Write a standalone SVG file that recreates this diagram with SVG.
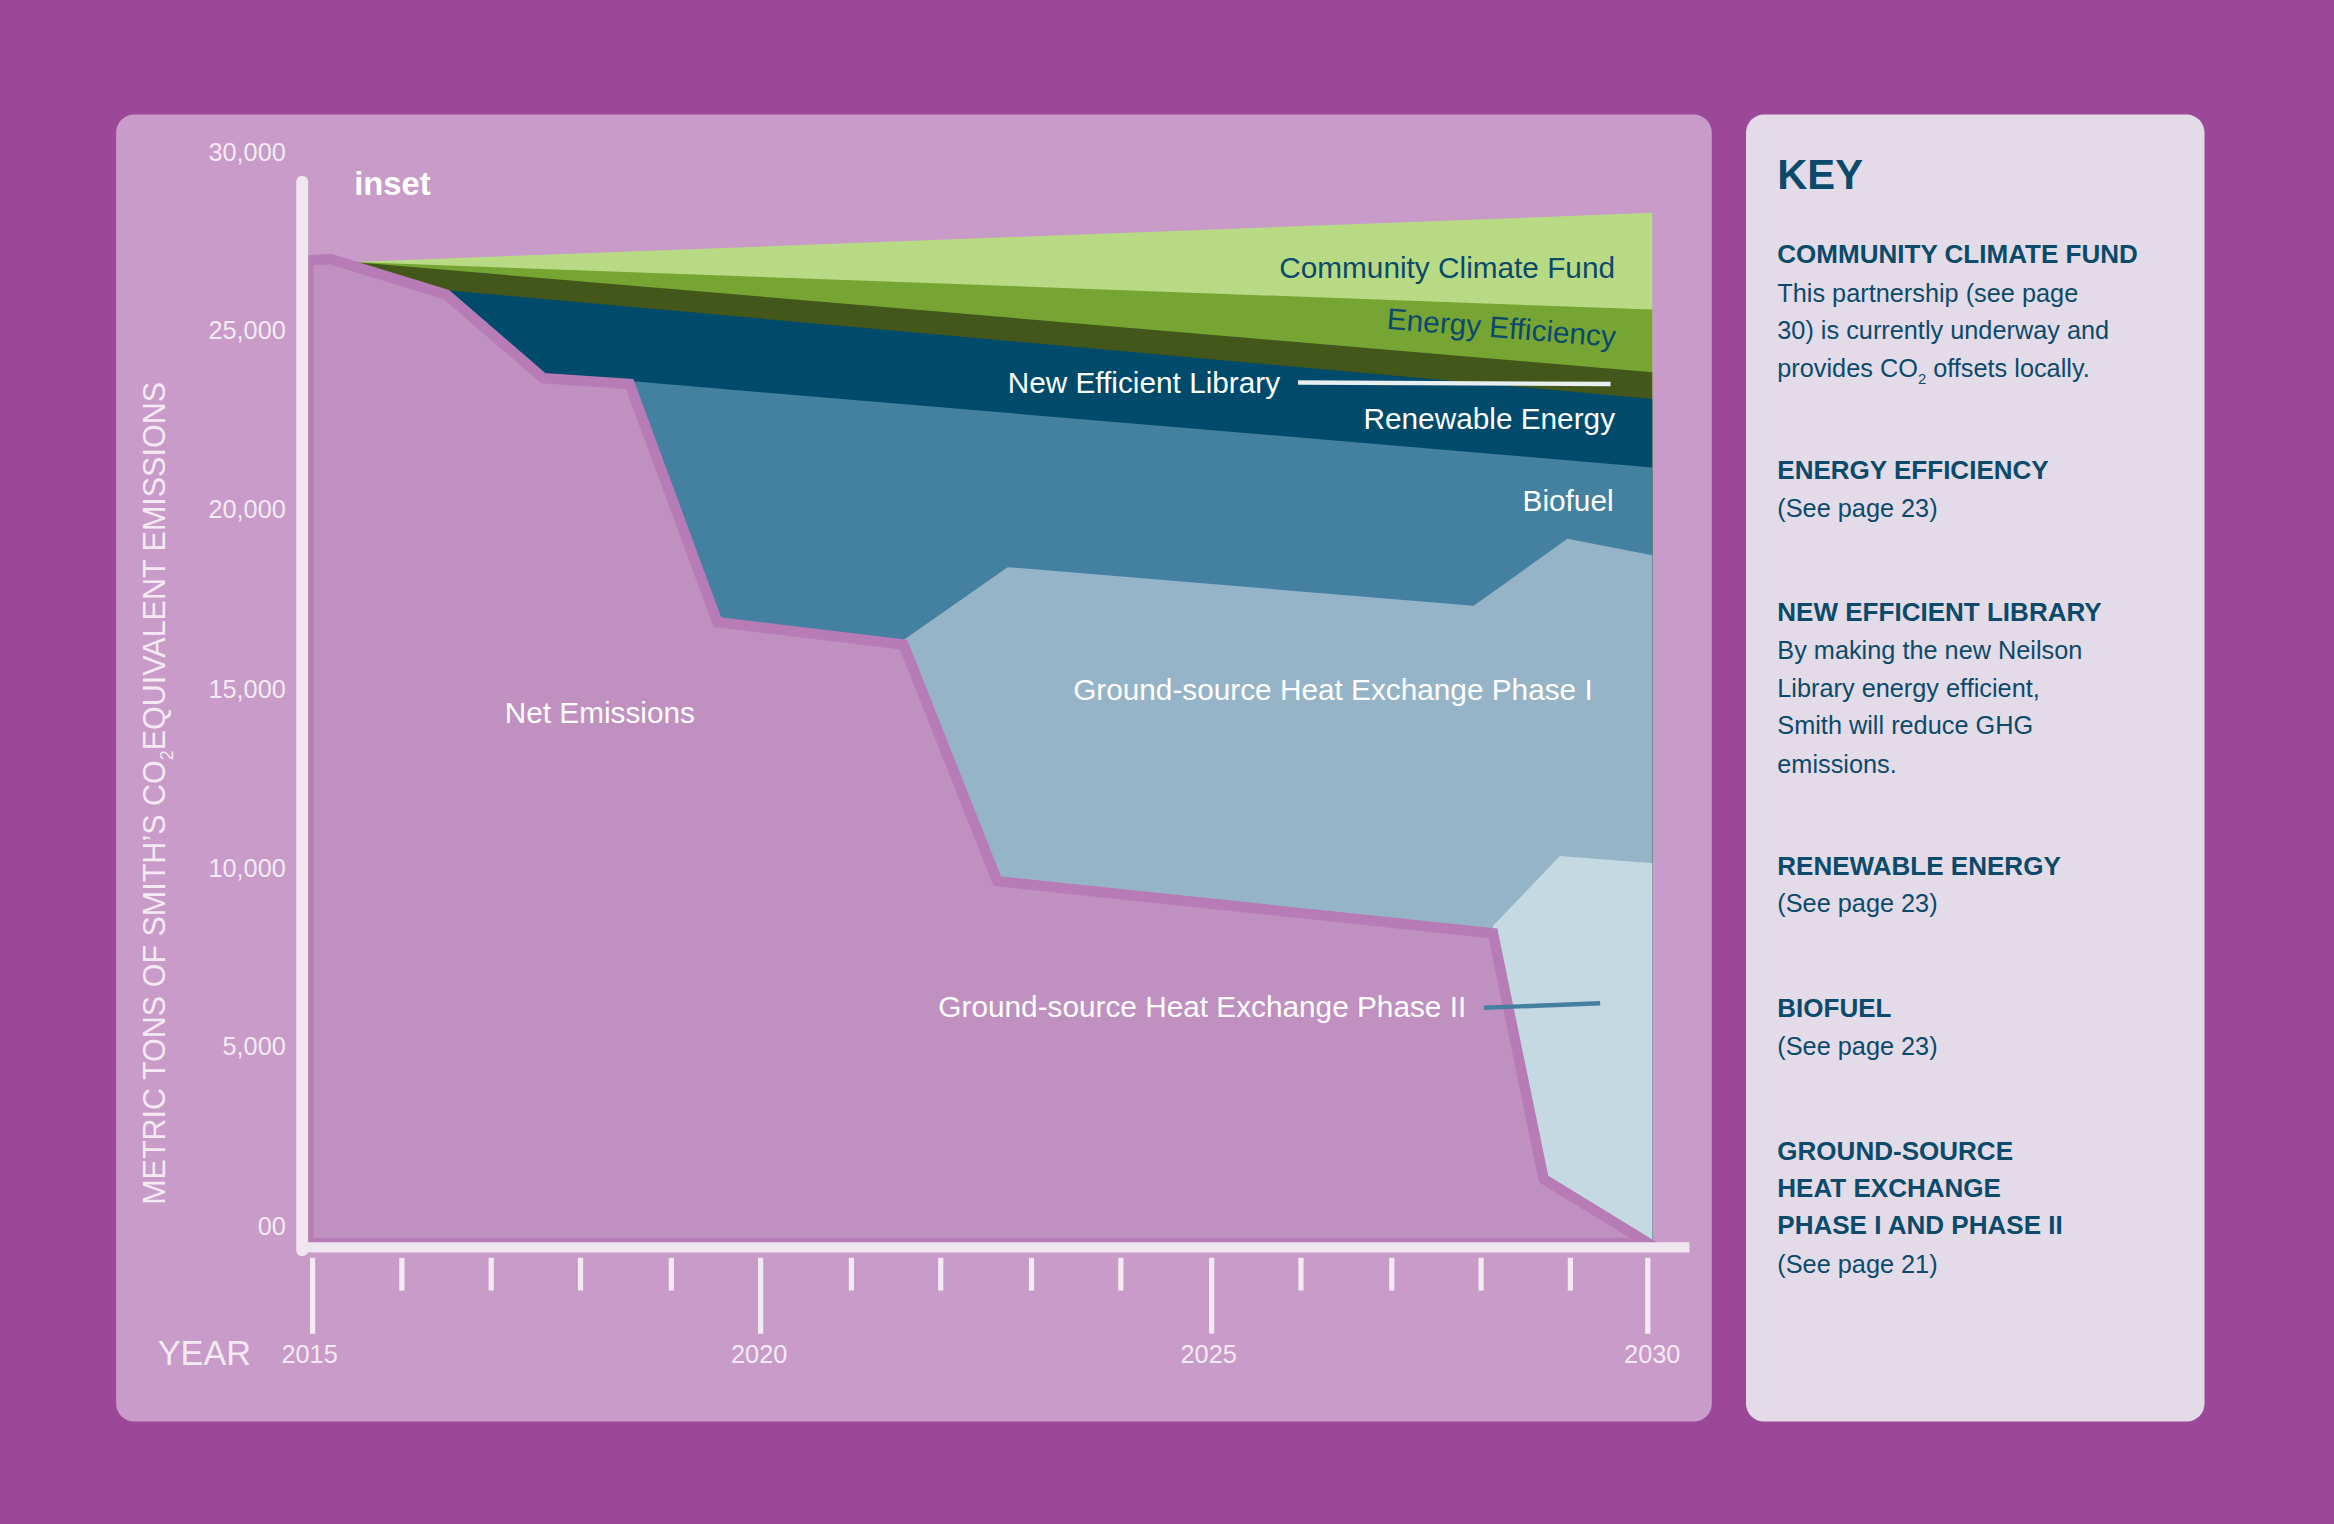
<svg xmlns="http://www.w3.org/2000/svg" width="2334" height="1524" viewBox="0 0 2334 1524">
<style>
text{font-family:"Liberation Sans","DejaVu Sans",sans-serif}
.w{fill:#ffffff}
.d{fill:#0b4a6a}
.yl{font-size:17px;fill:#f4eaf4;text-anchor:end}
.xl{font-size:17px;fill:#f4eaf4;text-anchor:middle}
.lab{font-size:20px;text-anchor:end}
.kh{font-size:17.5px;font-weight:bold;fill:#0b4a6a}
.kb{font-size:17px;fill:#0b4a6a}
.tick{stroke:#f4eaf4;stroke-width:3.5}
</style>
<rect width="2334" height="1524" fill="#9b4899"/>
<g transform="scale(1.48852)">
<g id="panel"><rect x="78" y="77" width="1072" height="878" rx="12" fill="#c89bc8"/></g>
<g id="keypanel"><rect x="1173" y="77" width="308" height="878" rx="12" fill="#e3dbe7"/></g>
<g id="areas">
<polygon id="ccf" points="237,176 1110,143 1110,835 207,835" fill="#b9da84"/>
<polygon id="ee" points="237,176 1110,208 1110,835 207,835" fill="#76a534"/>
<polygon id="dg" points="237,176 1110,250 1110,835 207,835" fill="#43571a"/>
<polygon id="re" points="237,176 300,195 1110,268 1110,835 207,835" fill="#004b6b"/>
<polygon id="bio" points="423,256 1110,314 1110,835 423,835" fill="#4480a0"/>
<polygon id="g1" points="607,430 677,381 990,407 1053,362 1110,373 1110,835 607,835" fill="#96b4c8"/>
<polygon id="g2" points="1003,622 1048,575 1110,580 1110,835 1003,835" fill="#c5d9e3"/>
<polygon id="net" points="207,175 222,174 300,198 365,254 423,258 482,418 607,433 670,592 1003,627 1037,792 1107,835 207,835" fill="#c090c0" stroke="#b77bb6" stroke-width="7" stroke-linejoin="miter"/>
</g>
<g id="connectors">
<line x1="872" y1="257" x2="1082" y2="258" stroke="#e8eef2" stroke-width="3"/>
<line x1="997" y1="677" x2="1075" y2="674" stroke="#4480a0" stroke-width="3"/>
</g>
<g id="axes">
<line x1="203" y1="122" x2="203" y2="840" stroke="#f0e6f0" stroke-width="8" stroke-linecap="round"/>
<line x1="200" y1="838" x2="1135" y2="838" stroke="#f0e6f0" stroke-width="7"/>
<line class="tick" x1="210" y1="845" x2="210" y2="896"/>
<line class="tick" x1="511" y1="845" x2="511" y2="896"/>
<line class="tick" x1="814" y1="845" x2="814" y2="896"/>
<line class="tick" x1="1107" y1="845" x2="1107" y2="896"/>
<g class="tick">
<line x1="270" y1="845" x2="270" y2="867"/><line x1="330" y1="845" x2="330" y2="867"/><line x1="390" y1="845" x2="390" y2="867"/><line x1="451" y1="845" x2="451" y2="867"/>
<line x1="572" y1="845" x2="572" y2="867"/><line x1="632" y1="845" x2="632" y2="867"/><line x1="693" y1="845" x2="693" y2="867"/><line x1="753" y1="845" x2="753" y2="867"/>
<line x1="874" y1="845" x2="874" y2="867"/><line x1="935" y1="845" x2="935" y2="867"/><line x1="995" y1="845" x2="995" y2="867"/><line x1="1055" y1="845" x2="1055" y2="867"/>
</g>
<text class="yl" x="192" y="108">30,000</text>
<text class="yl" x="192" y="228">25,000</text>
<text class="yl" x="192" y="348">20,000</text>
<text class="yl" x="192" y="469">15,000</text>
<text class="yl" x="192" y="589">10,000</text>
<text class="yl" x="192" y="709">5,000</text>
<text class="yl" x="192" y="830">00</text>
<text class="xl" x="208" y="916">2015</text>
<text class="xl" x="510" y="916">2020</text>
<text class="xl" x="812" y="916">2025</text>
<text class="xl" x="1110" y="916">2030</text>
<text x="106" y="917" font-size="23" fill="#f4eaf4">YEAR</text>
<text transform="translate(111,533) rotate(-90)" text-anchor="middle" font-size="20.5" fill="#f4eaf4">METRIC TONS OF SMITH’S CO<tspan font-size="12" dy="5">2</tspan><tspan dy="-5">EQUIVALENT EMISSIONS</tspan></text>
<text x="238" y="131" font-size="22" font-weight="bold" class="w">inset</text>
</g>
<g id="labels">
<text class="lab d" x="1085" y="187">Community Climate Fund</text>
<text class="lab d" transform="translate(1085,233) rotate(4.5)" x="0" y="0">Energy Efficiency</text>
<text class="lab w" x="860" y="264">New Efficient Library</text>
<text class="lab w" x="1085" y="288">Renewable Energy</text>
<text class="lab w" x="1084" y="343">Biofuel</text>
<text class="lab w" x="1070" y="470">Ground-source Heat Exchange Phase I</text>
<text class="w" x="403" y="486" font-size="20" text-anchor="middle">Net Emissions</text>
<text class="lab w" x="985" y="683">Ground-source Heat Exchange Phase II</text>
</g>
<g id="key">
<text x="1194" y="127" font-size="28" font-weight="bold" class="d">KEY</text>
<text class="kh" x="1194" y="177">COMMUNITY CLIMATE FUND</text>
<text class="kb" x="1194" y="203">This partnership (see page</text>
<text class="kb" x="1194" y="228">30) is currently underway and</text>
<text class="kb" x="1194" y="253">provides CO<tspan font-size="10" dy="5">2</tspan><tspan dy="-5"> offsets locally.</tspan></text>
<text class="kh" x="1194" y="322">ENERGY EFFICIENCY</text>
<text class="kb" x="1194" y="347">(See page 23)</text>
<text class="kh" x="1194" y="417">NEW EFFICIENT LIBRARY</text>
<text class="kb" x="1194" y="443">By making the new Neilson</text>
<text class="kb" x="1194" y="468">Library energy efficient,</text>
<text class="kb" x="1194" y="493">Smith will reduce GHG</text>
<text class="kb" x="1194" y="519">emissions.</text>
<text class="kh" x="1194" y="588">RENEWABLE ENERGY</text>
<text class="kb" x="1194" y="613">(See page 23)</text>
<text class="kh" x="1194" y="683">BIOFUEL</text>
<text class="kb" x="1194" y="709">(See page 23)</text>
<text class="kh" x="1194" y="779">GROUND-SOURCE</text>
<text class="kh" x="1194" y="804">HEAT EXCHANGE</text>
<text class="kh" x="1194" y="829">PHASE I AND PHASE II</text>
<text class="kb" x="1194" y="855">(See page 21)</text>
</g>
</g>
</svg>
